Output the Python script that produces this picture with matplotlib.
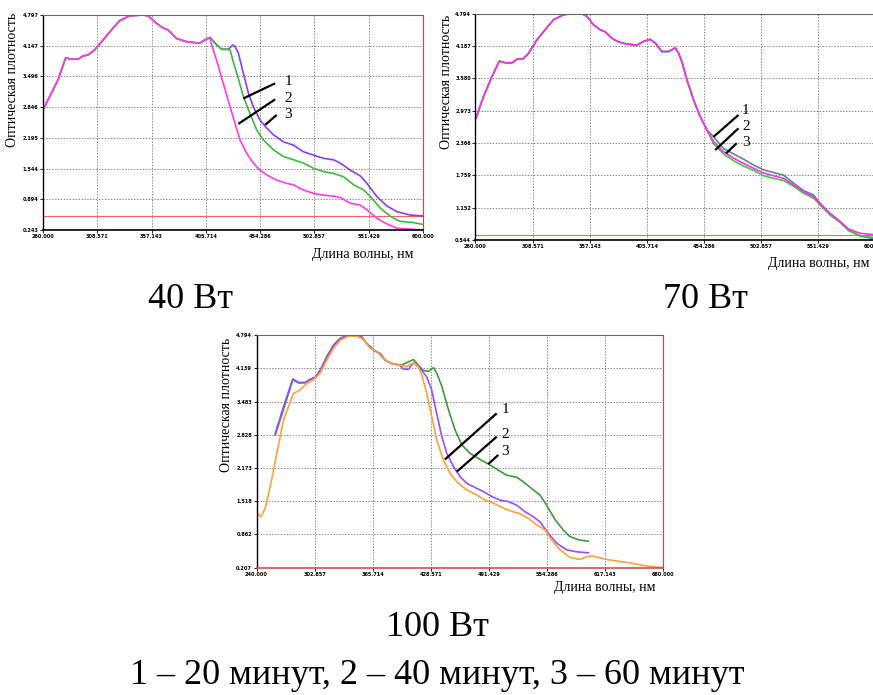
import numpy as np
import matplotlib
matplotlib.use("Agg")
import matplotlib.pyplot as plt

plt.rcParams['font.family'] = ['Liberation Serif', 'DejaVu Serif']

# ---- 40 W panel ----
p1_xticks = ['260.000', '308.571', '357.143', '405.714', '454.286', '502.857', '551.429', '600.000']
p1_yticks = ['0.243', '0.894', '1.544', '2.195', '2.846', '3.496', '4.147', '4.797']
p1_common_x = [260, 266, 273.4, 280.3, 285.4, 291.4, 295.9, 300.3, 306.3, 313.8, 322.7, 328.7,
               337.7, 349.6, 354, 361.6, 367.6, 372, 379.5, 388.5, 400.4, 404.9, 409.7]
p1_common_y = [2.79, 3.07, 3.42, 3.89, 3.86, 3.86, 3.93, 3.95, 4.06, 4.27, 4.52, 4.68,
               4.78, 4.797, 4.78, 4.62, 4.52, 4.48, 4.30, 4.23, 4.20, 4.27, 4.32]
p1_mid_x = [413.9, 419.8, 425.8]
p1_mid_y = [4.20, 4.07, 4.07]
p1_purple_x = [429.7, 431.8, 434.8, 439.3, 443.8, 448.2, 454.2, 460.2, 466.2, 475.1, 484.1, 493,
               502, 511, 520, 526, 535, 543.9, 549.8, 558.8, 567.8, 576.7, 588.6, 600]
p1_purple_y = [4.16, 4.13, 3.99, 3.56, 3.14, 2.85, 2.57, 2.40, 2.26, 2.11, 2.04, 1.90,
               1.83, 1.76, 1.73, 1.66, 1.51, 1.39, 1.23, 0.95, 0.75, 0.63, 0.56, 0.54]
p1_green_x = [427.5, 430.3, 434.8, 439.3, 445.2, 451.2, 457.2, 466.2, 475.1, 484.1, 493, 502, 511,
              520, 529, 538, 547, 553, 562, 571, 579, 591.6, 600]
p1_green_y = [4.05, 3.80, 3.45, 3.07, 2.71, 2.36, 2.15, 1.94, 1.80, 1.73, 1.66, 1.55, 1.48,
              1.44, 1.37, 1.20, 1.09, 0.95, 0.70, 0.53, 0.43, 0.40, 0.36]
p1_magenta_x = [410, 415.3, 421.3, 427.3, 431.8, 436.3, 442.2, 448.2, 454.2, 460.2, 469.1, 478.1,
                484.1, 493, 502, 511, 520, 526, 535, 543.9, 549.8, 558.8, 567.8, 576.7, 588.6, 600]
p1_magenta_y = [4.23, 3.84, 3.35, 2.86, 2.50, 2.15, 1.87, 1.66, 1.51, 1.41, 1.30, 1.23,
                1.20, 1.09, 1.02, 0.98, 0.96, 0.93, 0.81, 0.77, 0.67, 0.49, 0.37, 0.28, 0.26, 0.243]
p1_baseline = 0.54

# ---- 70 W panel ----
p2_xticks = ['260.000', '308.571', '357.143', '405.714', '454.286', '502.857', '551.429', '600.000']
p2_yticks = ['0.544', '1.152', '1.759', '2.366', '2.973', '3.580', '4.187', '4.794']
p2_common_x = [260.4, 266.9, 274, 280.2, 285.3, 291, 295.8, 300.3, 305.2, 312.2, 319.3, 326.4,
               334.9, 343.4, 350.5, 354.7, 360.4, 366, 370.3, 375.9, 381.6, 388.7, 397.2, 402.8,
               408.5, 412.8, 418.4, 424.1, 429.8, 432.6, 435.4, 439.7, 445.4, 451, 456.7]
p2_common_y = [2.83, 3.24, 3.61, 3.90, 3.87, 3.87, 3.94, 3.94, 4.05, 4.30, 4.49, 4.68,
               4.77, 4.80, 4.79, 4.74, 4.58, 4.49, 4.45, 4.33, 4.26, 4.22, 4.20, 4.27,
               4.31, 4.24, 4.08, 4.08, 4.15, 4.05, 3.89, 3.55, 3.17, 2.86, 2.61]
p2_tail_x = [462.4, 470.9, 479.4, 487.9, 496.4, 504.9, 513.4, 521.9, 530.4, 538.9, 547.3, 553,
             561.5, 570, 577.1, 587, 600]
p2_teal_y = [2.48, 2.26, 2.16, 2.06, 1.95, 1.86, 1.81, 1.76, 1.61, 1.47, 1.39, 1.23,
             1.04, 0.89, 0.73, 0.62, 0.56]
p2_magenta_y = [2.39, 2.20, 2.08, 1.98, 1.89, 1.80, 1.75, 1.70, 1.58, 1.45, 1.36, 1.22,
                1.04, 0.89, 0.75, 0.67, 0.64]
p2_green_y = [2.35, 2.16, 2.03, 1.93, 1.85, 1.75, 1.70, 1.66, 1.55, 1.42, 1.33, 1.20,
              1.01, 0.87, 0.72, 0.62, 0.59]
p2_baseline = 0.64

# ---- 100 W panel ----
p3_xticks = ['240.000', '302.857', '365.714', '428.571', '491.429', '554.286', '617.143', '680.000']
p3_yticks = ['0.207', '0.862', '1.518', '2.173', '2.828', '3.483', '4.139', '4.794']
p3_green_x = [260.2, 269.2, 279.3, 285.4, 292.7, 298.1, 303.5, 308.9, 316.1, 323.4, 330.6, 337.8,
              348.6, 354, 359.4, 366.6, 373.9, 379.3, 386.5, 397.3, 402.7, 409.9, 415.3, 420.8,
              426.2, 431.6, 435.2, 440.6, 447.8, 455, 462.2, 471.2, 482, 491, 500, 510.8, 521.6,
              528.8, 539.6, 546.8, 554, 563, 572, 579.2, 590, 599.3]
p3_green_y = [2.82, 3.32, 3.91, 3.85, 3.85, 3.92, 3.96, 4.10, 4.37, 4.60, 4.73, 4.79,
              4.79, 4.76, 4.63, 4.50, 4.43, 4.30, 4.23, 4.20, 4.25, 4.31, 4.20, 4.09,
              4.08, 4.15, 4.04, 3.78, 3.32, 2.92, 2.63, 2.46, 2.34, 2.25, 2.15, 2.03, 1.99,
              1.90, 1.74, 1.64, 1.44, 1.16, 0.95, 0.82, 0.75, 0.73]
p3_purple_x = [260.2, 269.2, 279.3, 285.4, 292.7, 298.1, 303.5, 308.9, 316.1, 323.4, 330.6, 337.8,
               348.6, 354, 359.4, 366.6, 373.9, 379.3, 386.5, 395, 399, 404.5, 409.9, 417, 424.2,
               429.6, 435, 440.6, 446, 453.2, 460.4, 467.6, 478.4, 485.6, 494.6, 503.6, 512.7,
               521.7, 530.7, 539.7, 546.9, 556, 565, 575.6, 586.5, 599.3]
p3_purple_y = [2.85, 3.38, 3.93, 3.86, 3.86, 3.92, 3.96, 4.09, 4.35, 4.58, 4.72, 4.78,
               4.78, 4.75, 4.62, 4.50, 4.42, 4.30, 4.23, 4.20, 4.12, 4.12, 4.25, 4.14, 3.97,
               3.71, 3.25, 2.79, 2.46, 2.20, 2.00, 1.87, 1.77, 1.71, 1.61, 1.54, 1.51,
               1.44, 1.31, 1.21, 1.11, 0.88, 0.69, 0.56, 0.52, 0.50]
p3_orange_x = [240.4, 245, 249.4, 254.8, 262, 269.2, 280, 287.2, 294.4, 301.7, 308.9, 316.1,
               323.4, 330.6, 339.5, 348.6, 355.8, 363, 370.2, 377.4, 386.5, 395.5, 402.7, 409.9,
               415.3, 418.9, 424.3, 429.7, 435.1, 442.3, 449.5, 458.5, 467.6, 478.4, 487.4, 496.4,
               507.2, 518, 525.3, 534.3, 543.3, 552.3, 559.5, 568.5, 579.3, 590.1, 597.3, 602.7,
               619, 640.6, 662.2, 680]
p3_orange_y = [1.29, 1.21, 1.38, 1.80, 2.46, 3.12, 3.64, 3.71, 3.84, 3.91, 4.04, 4.30,
               4.53, 4.69, 4.77, 4.77, 4.71, 4.53, 4.47, 4.33, 4.23, 4.20, 4.17, 4.25,
               4.17, 4.01, 3.64, 3.18, 2.72, 2.33, 2.07, 1.87, 1.74, 1.64, 1.54, 1.48,
               1.38, 1.31, 1.27, 1.18, 1.05, 0.95, 0.75, 0.56, 0.41, 0.37, 0.42, 0.44,
               0.37, 0.31, 0.24, 0.21]

W, H = 873, 695
fig = plt.figure(figsize=(W / 100, H / 100), dpi=100)


def make_axes(left, top, right, bottom):
    return fig.add_axes([left / W, 1 - bottom / H, (right - left) / W, (bottom - top) / H])


def style(ax, xt, yt, ylab_x, right_red=True, bottom_red=False):
    xv = [float(t) for t in xt]
    yv = [float(t) for t in yt]
    ax.set_xlim(xv[0], xv[-1])
    ax.set_ylim(yv[0], yv[-1])
    ax.set_xticks(xv)
    ax.set_xticklabels(xt)
    ax.set_yticks(yv)
    ax.set_yticklabels(yt)
    ax.tick_params(labelsize=3.6, length=2, width=0.6, pad=1.2)
    for lab in ax.get_xticklabels() + ax.get_yticklabels():
        lab.set_family('DejaVu Sans')
        lab.set_fontweight('bold')
    ax.grid(True, color='#888888', linestyle=(0, (1.5, 1.5)), linewidth=0.7)
    ax.spines['left'].set_color('black')
    ax.spines['left'].set_linewidth(1.0)
    ax.spines['top'].set_color('#666666')
    ax.spines['top'].set_linestyle((0, (1.5, 1)))
    ax.spines['right'].set_color('#e04040' if right_red else '#666666')
    ax.spines['right'].set_linewidth(0.8)
    if bottom_red:
        ax.spines['bottom'].set_color('#d05050')
        ax.spines['bottom'].set_linewidth(1.2)
    else:
        ax.spines['bottom'].set_color('black')
        ax.spines['bottom'].set_linestyle((0, (1.5, 1)))
        ax.spines['bottom'].set_linewidth(1.2)
    ax.set_ylabel('Оптическая плотность', fontsize=10)
    ax.yaxis.set_label_coords(ylab_x, 0.70)


def leader(ax, x0, y0, x1, y1, label, tx, ty):
    ax.plot([x0, x1], [y0, y1], color='black', lw=1.6, solid_capstyle='butt')
    ax.text(tx, ty, label, fontsize=11, ha='left', va='center')


# 40 W
ax1 = make_axes(43, 15, 423, 230)
style(ax1, p1_xticks, p1_yticks, -0.063)
ax1.axhline(p1_baseline, color='#ff6060', lw=0.8)
cx = p1_common_x + p1_mid_x
cy = p1_common_y + p1_mid_y
ax1.plot(cx + p1_purple_x, cy + p1_purple_y, color='#8a3cf0', lw=1.2)
ax1.plot(cx + p1_green_x, cy + p1_green_y, color='#3cba3c', lw=1.2)
ax1.plot(p1_common_x + p1_magenta_x, p1_common_y + p1_magenta_y, color='#ff3ce6', lw=1.2)
leader(ax1, 439.3, 3.03, 467.7, 3.35, '1', 476, 3.38)
leader(ax1, 434.8, 2.49, 467.7, 3.01, '2', 476, 3.03)
leader(ax1, 458.7, 2.47, 469.1, 2.68, '3', 476, 2.70)
fig.text(413 / W, 1 - 255 / H, 'Длина волны, нм', fontsize=10, ha='right', va='center')
fig.text(190 / W, 1 - 300 / H, '40 Вт', fontsize=26, ha='center', va='center')

# 70 W
ax2 = make_axes(475.5, 13.5, 875.5, 240)
style(ax2, p2_xticks, p2_yticks, -0.057)
ax2.axhline(p2_baseline, color='#ff6060', lw=0.8)
ax2.plot(p2_common_x + p2_tail_x, p2_common_y + p2_teal_y, color='#4f8f88', lw=1.2)
ax2.plot(p2_common_x + p2_tail_x, p2_common_y + p2_green_y, color='#3cc83c', lw=1.2)
ax2.plot(p2_common_x + p2_tail_x, p2_common_y + p2_magenta_y, color='#ff2cf0', lw=1.2)
leader(ax2, 462.3, 2.48, 483.5, 2.89, '1', 486.5, 2.97)
leader(ax2, 463.7, 2.23, 483.5, 2.64, '2', 486.5, 2.68)
leader(ax2, 473.0, 2.17, 482.0, 2.36, '3', 486.5, 2.38)
fig.text(870 / W, 1 - 263 / H, 'Длина волны, нм', fontsize=10, ha='right', va='center')
fig.text(705 / W, 1 - 300 / H, '70 Вт', fontsize=26, ha='center', va='center')

# 100 W
ax3 = make_axes(256.5, 335, 663, 567.7)
style(ax3, p3_xticks, p3_yticks, -0.058, right_red=True, bottom_red=True)
ax3.plot(p3_green_x, p3_green_y, color='#3c9a3c', lw=1.2)
ax3.plot(p3_purple_x, p3_purple_y, color='#9a4cff', lw=1.2)
ax3.plot(p3_orange_x, p3_orange_y, color='#ffa040', lw=1.2)
leader(ax3, 443.9, 2.34, 500, 3.25, '1', 505, 3.32)
leader(ax3, 456.8, 2.10, 500, 2.79, '2', 505, 2.84)
leader(ax3, 490.9, 2.25, 501.7, 2.43, '3', 505, 2.50)
fig.text(655 / W, 1 - 588 / H, 'Длина волны, нм', fontsize=10, ha='right', va='center')
fig.text(437 / W, 1 - 628 / H, '100 Вт', fontsize=26, ha='center', va='center')
fig.text(437 / W, 1 - 675 / H, '1 – 20 минут, 2 – 40 минут, 3 – 60 минут',
         fontsize=26, ha='center', va='center')

fig.savefig('out.png', dpi=100)
